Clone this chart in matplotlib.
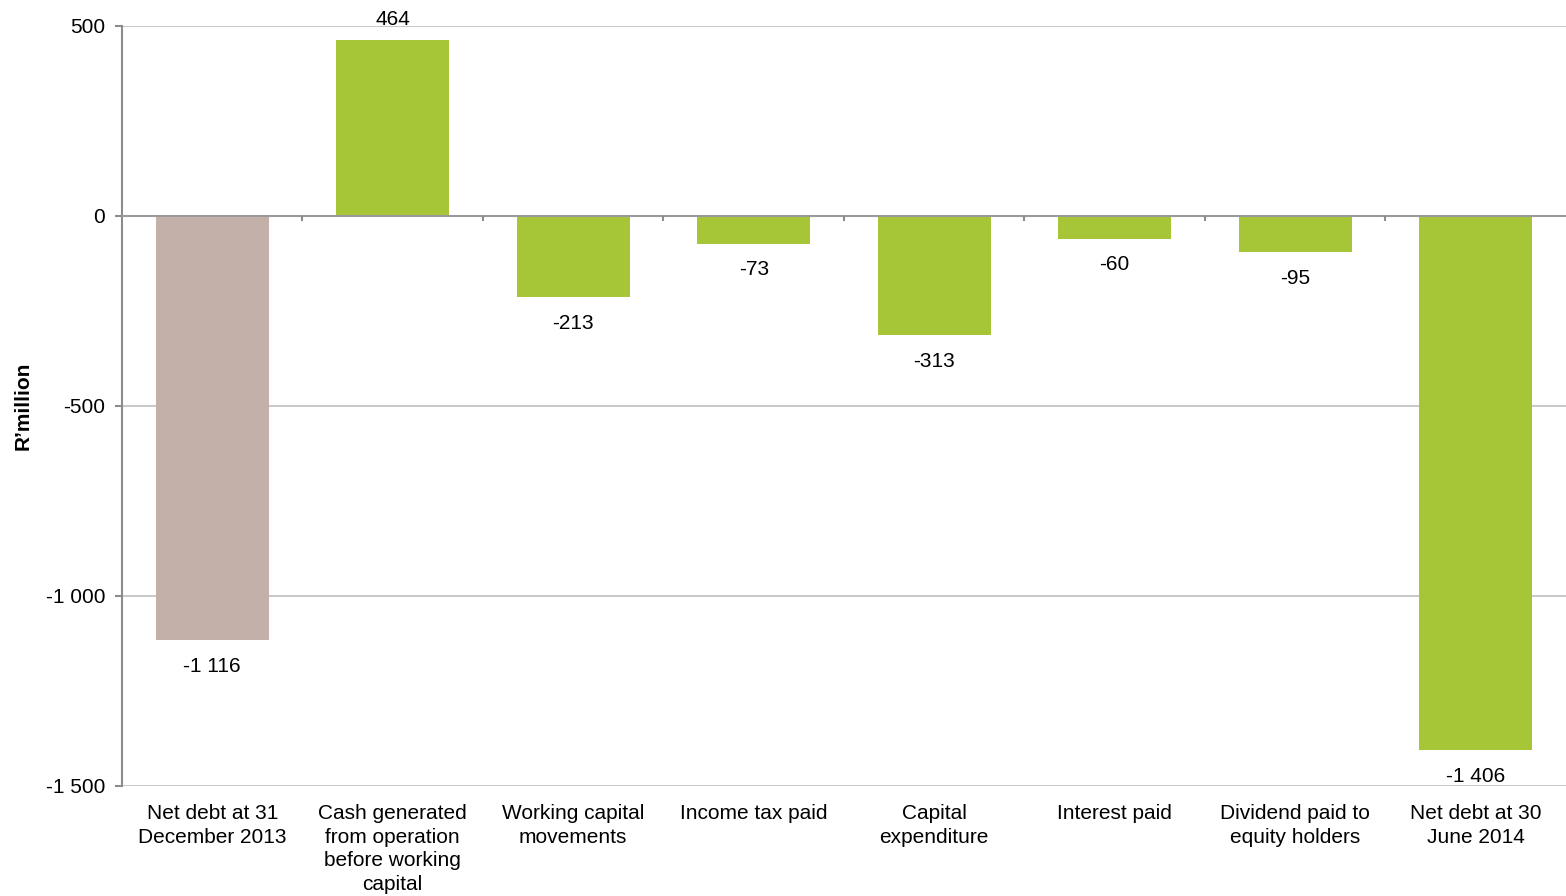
import matplotlib
matplotlib.use("Agg")
import matplotlib.pyplot as plt

plt.rcParams['font.family'] = ['Liberation Sans', 'DejaVu Sans']

categories = [
    "Net debt at 31\nDecember 2013",
    "Cash generated\nfrom operation\nbefore working\ncapital",
    "Working capital\nmovements",
    "Income tax paid",
    "Capital\nexpenditure",
    "Interest paid",
    "Dividend paid to\nequity holders",
    "Net debt at 30\nJune 2014",
]
values = [-1116, 464, -213, -73, -313, -60, -95, -1406]
value_labels = ["-1 116", "464", "-213", "-73", "-313", "-60", "-95", "-1 406"]
yticks = [500, 0, -500, -1000, -1500]
ytick_labels = ["500", "0", "-500", "-1 000", "-1 500"]

brown = "#C3B0A9"
green = "#A6C638"
colors = [brown] + [green] * (len(values) - 1)

FS = 15

fig = plt.figure(figsize=(15.66, 8.96), dpi=100)
ax = fig.add_axes([0.0779, 0.1228, 0.9221, 0.8482])

x = list(range(len(values)))
ax.bar(x, values, width=0.625, color=colors, zorder=3)

ax.set_xlim(-0.5, len(values) - 0.5)
ax.set_ylim(-1500, 500)
ax.set_yticks(yticks)
ax.set_yticklabels(ytick_labels, fontsize=FS)
ax.yaxis.grid(True, color="#BFBFBF", linewidth=1.2, zorder=0)

# zero baseline with category separator ticks
ax.axhline(0, color="#9A9A9A", linewidth=1.5, zorder=4)
bounds = [i + 0.5 for i in x[:-1]]
ax.vlines(bounds, -14, 0, color="#8C8C8C", linewidth=1.5, zorder=4)

for s in ["top", "right", "bottom"]:
    ax.spines[s].set_visible(False)
ax.spines["left"].set_color("#8C8C8C")
ax.spines["left"].set_linewidth(1.5)
ax.tick_params(axis="y", length=5, width=1.5, color="#8C8C8C", pad=7)
ax.tick_params(axis="x", length=0, pad=13)
ax.set_xticks(x)
ax.set_xticklabels(categories, fontsize=FS, linespacing=1.3)

for xi, v, lab in zip(x, values, value_labels):
    if v >= 0:
        ax.annotate(lab, (xi, v), xytext=(0, 8), textcoords="offset points",
                    ha="center", va="bottom", fontsize=FS)
    else:
        ax.annotate(lab, (xi, v), xytext=(0, -12), textcoords="offset points",
                    ha="center", va="top", fontsize=FS)

ax.set_ylabel("R\u2019million", fontsize=FS, fontweight="bold")
ax.yaxis.set_label_coords(-0.0616, 0.5)

fig.savefig("out.png", dpi=100)
